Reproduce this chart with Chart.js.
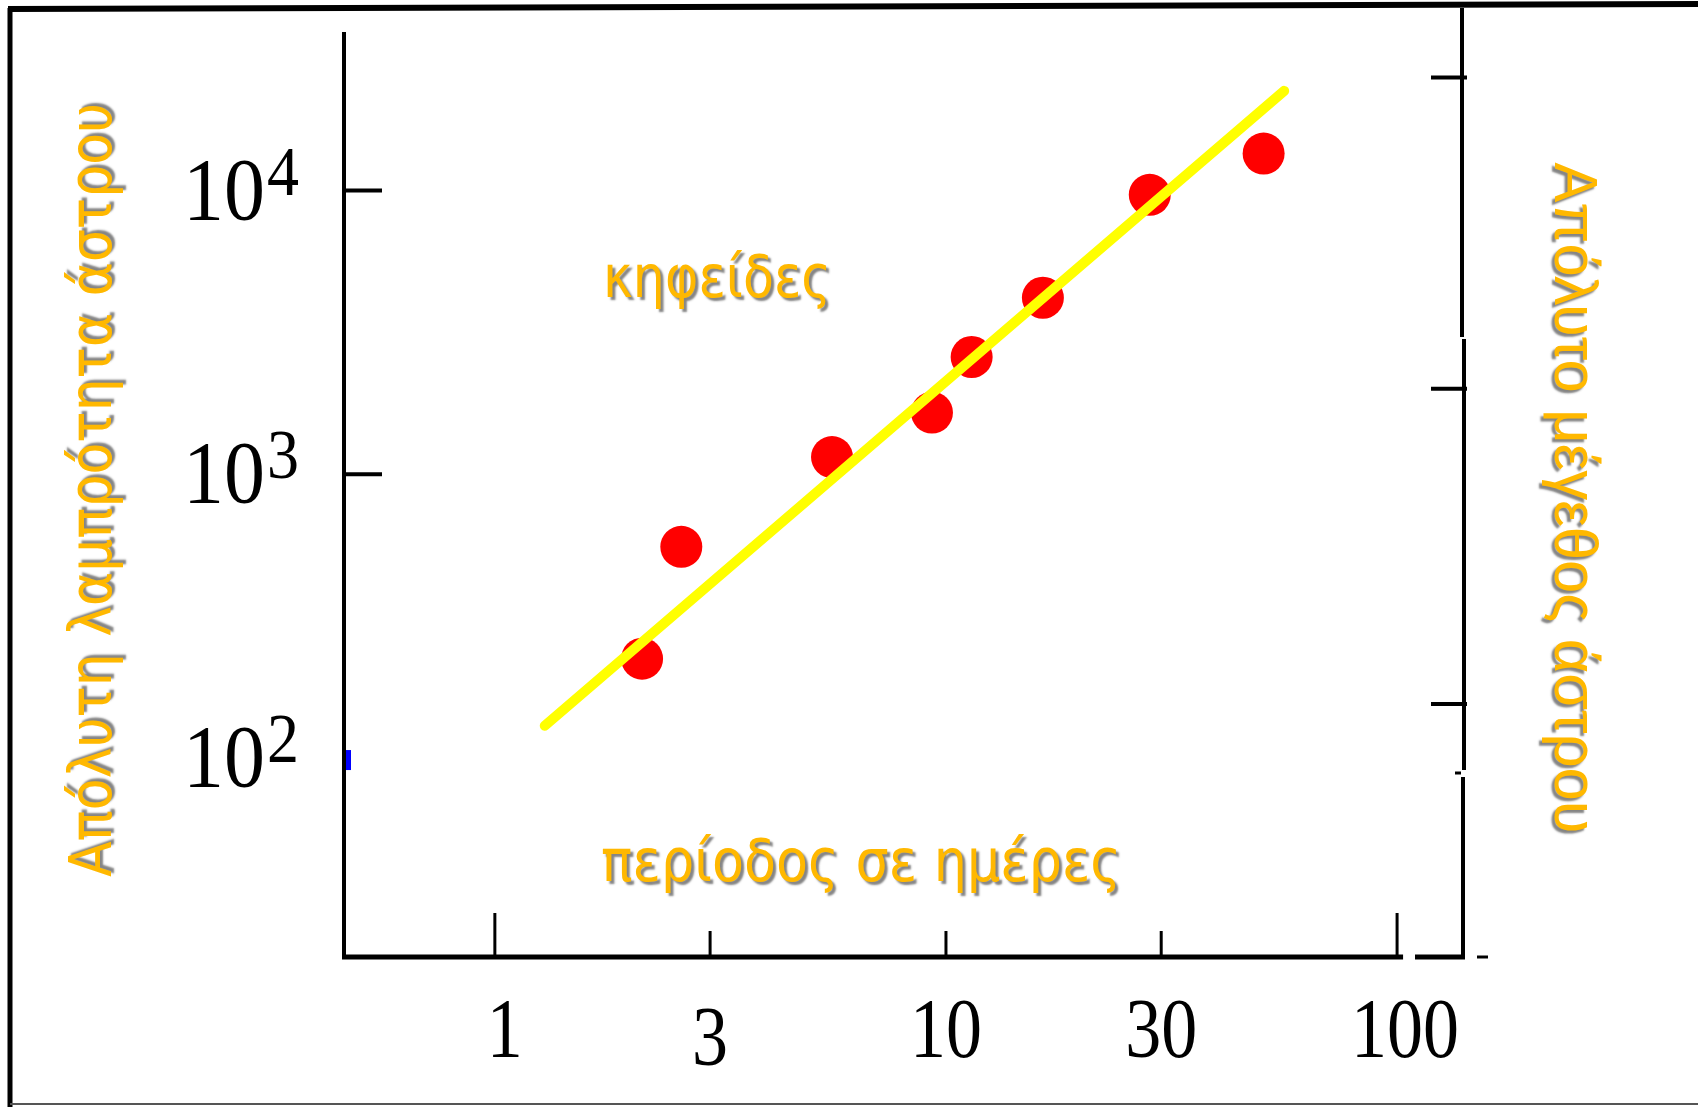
<!DOCTYPE html>
<html><head><meta charset="utf-8">
<script src="https://cdn.jsdelivr.net/npm/chart.js@4"></script>
<style>html,body{margin:0;padding:0;background:#fff;overflow:hidden}#wrap{width:1698px;height:1107px}</style>
</head><body><div id="wrap"><canvas id="c" width="1698" height="1107"></canvas></div>
<script>
// ---- data ----
const periodDays = [2.12, 2.59, 5.59, 9.31, 11.4, 16.4, 28.3, 50.6];
const luminosity = [224, 555, 1150, 1650, 2590, 4190, 9660, 13500];
const fitPeriod = [1.29, 56.2];
const fitLuminosity = [130, 22450];
const xTickValues = [1, 3, 10, 30, 100];
const xTickLabels = ['1', '3', '10', '30', '100'];
const yTickExponents = [4, 3, 2];
const rightTickValues = [25000, 2000, 155];
const xRange = [0.463, 140];
const yRange = [19.9, 36200];
const labelStar = 'κηφείδες';
const labelX = 'περίοδος σε ημέρες';
const labelYLeft = 'Απόλυτη λαμπρότητα άστρου';
const labelYRight = 'Απόλυτο μέγεθος άστρου';

const ORANGE = '#FFB800';

function fittedText(ctx, text, cx, cy, angle, font, targetW, shOff) {
  ctx.save();
  ctx.translate(cx, cy);
  ctx.rotate(angle);
  ctx.font = font;
  const w = ctx.measureText(text).width;
  const sx = targetW / w;
  ctx.scale(sx, 1);
  ctx.textAlign = 'center';
  ctx.textBaseline = 'middle';
  ctx.shadowColor = 'rgba(110,110,110,0.85)';
  ctx.shadowBlur = 2;
  ctx.shadowOffsetX = shOff[0];
  ctx.shadowOffsetY = shOff[1];
  ctx.fillStyle = ORANGE;
  ctx.fillText(text, 0, 0);
  ctx.restore();
}

function tallText(ctx, text, x, y, align, font, sy) {
  ctx.save();
  ctx.translate(x, y);
  ctx.scale(1, sy);
  ctx.font = font;
  ctx.textAlign = align;
  ctx.textBaseline = 'alphabetic';
  ctx.fillText(text, 0, 0);
  ctx.restore();
}

const decor = {
  id: 'decor',
  beforeDraw(chart) {
    const ctx = chart.ctx;
    ctx.save();
    ctx.fillStyle = '#fff';
    ctx.fillRect(0, 0, chart.width, chart.height);
    ctx.restore();
  },
  afterDraw(chart) {
    const ctx = chart.ctx;
    const xs = chart.scales.x, ys = chart.scales.y;
    const {left: L, right: R, top: T, bottom: B} = chart.chartArea;
    ctx.save();
    ctx.strokeStyle = '#000';
    ctx.lineCap = 'butt';
    // frame
    ctx.lineWidth = 5;
    ctx.beginPath(); ctx.moveTo(10, 1107); ctx.lineTo(10, 8); ctx.stroke();
    ctx.lineWidth = 6;
    ctx.beginPath(); ctx.moveTo(8, 9); ctx.lineTo(1698, 4); ctx.stroke();
    ctx.strokeStyle = '#555';
    ctx.lineWidth = 2;
    ctx.beginPath(); ctx.moveTo(10, 1104); ctx.lineTo(1698, 1104); ctx.stroke();
    ctx.strokeStyle = '#000';
    // axes
    ctx.lineWidth = 4;
    ctx.beginPath(); ctx.moveTo(L, T); ctx.lineTo(L, B + 2); ctx.stroke();
    const x100 = xs.getPixelForValue(100);
    ctx.lineWidth = 5;
    ctx.beginPath(); ctx.moveTo(L - 2, B); ctx.lineTo(x100 + 6, B); ctx.stroke();
    ctx.beginPath(); ctx.moveTo(R - 48, B); ctx.lineTo(R + 2, B); ctx.stroke();
    ctx.lineWidth = 3;
    ctx.beginPath(); ctx.moveTo(R + 14, B); ctx.lineTo(R + 25, B); ctx.stroke();
    ctx.lineWidth = 4;
    ctx.beginPath(); ctx.moveTo(R - 1, 8); ctx.lineTo(R - 1, 337); ctx.stroke();
    ctx.beginPath(); ctx.moveTo(R + 1, 339); ctx.lineTo(R + 1, 770); ctx.stroke();
    ctx.beginPath(); ctx.moveTo(R, 777); ctx.lineTo(R, B + 2); ctx.stroke();
    ctx.lineWidth = 3;
    ctx.beginPath(); ctx.moveTo(R - 8, 773); ctx.lineTo(R - 2, 773); ctx.stroke();
    // left ticks
    ctx.lineWidth = 4;
    yTickExponents.forEach(e => {
      if (e === 2) return;
      const py = ys.getPixelForValue(Math.pow(10, e));
      ctx.beginPath(); ctx.moveTo(L, py); ctx.lineTo(L + 38, py); ctx.stroke();
    });
    // blue mark at 10^2
    const p2 = ys.getPixelForValue(100);
    ctx.fillStyle = '#0000FF';
    ctx.fillRect(L + 2, p2 - 8, 5, 20);
    // bottom ticks
    ctx.lineWidth = 3;
    xTickValues.forEach(v => {
      const px = xs.getPixelForValue(v);
      const len = (v === 1 || v === 100) ? 44 : 26;
      ctx.beginPath(); ctx.moveTo(px, B); ctx.lineTo(px, B - len); ctx.stroke();
    });
    // right ticks
    ctx.lineWidth = 4;
    rightTickValues.forEach(v => {
      const py = ys.getPixelForValue(v);
      ctx.beginPath(); ctx.moveTo(R - 32, py); ctx.lineTo(R + 4, py); ctx.stroke();
    });
    // x tick labels
    ctx.fillStyle = '#000';
    xTickValues.forEach((v, i) => {
      const px = xs.getPixelForValue(v);
      tallText(ctx, xTickLabels[i], px + (v === 1 ? 10 : (v === 100 ? 8 : 0)),
               B + 100 + (v === 3 ? 8 : 0), 'center', '72px "Liberation Serif", serif', 1.18);
    });
    // y tick labels 10^n
    yTickExponents.forEach(e => {
      const py = ys.getPixelForValue(Math.pow(10, e));
      tallText(ctx, '10', 265, py + 28, 'right', '82px "Liberation Serif", serif', 1.08);
      tallText(ctx, String(e), 267, py + 4, 'left', '64px "Liberation Serif", serif', 1.1);
    });
    ctx.restore();
    // orange labels
    fittedText(ctx, labelStar, 717, 282, 0, '58px "DejaVu Sans", sans-serif', 228, [3, 3]);
    fittedText(ctx, labelX, 861, 866, 0, '58px "DejaVu Sans", sans-serif', 520, [3, 3]);
    fittedText(ctx, labelYLeft, 96, 490, -Math.PI / 2, '58px "DejaVu Sans", sans-serif', 774, [3, -3]);
    fittedText(ctx, labelYRight, 1572, 498, Math.PI / 2, '62px "Liberation Sans", sans-serif', 671, [-3, 3]);
  }
};

const chart = new Chart(document.getElementById('c'), {
  type: 'scatter',
  data: {
    datasets: [
      {
        type: 'line',
        data: fitPeriod.map((x, i) => ({x, y: fitLuminosity[i]})),
        borderColor: '#FFFF00',
        borderWidth: 10,
        borderCapStyle: 'round',
        pointRadius: 0,
        fill: false,
        tension: 0
      },
      {
        data: periodDays.map((x, i) => ({x, y: luminosity[i]})),
        backgroundColor: '#FF0000',
        borderWidth: 0,
        pointRadius: 21,
        pointHoverRadius: 21
      }
    ]
  },
  options: {
    responsive: false,
    animation: false,
    devicePixelRatio: 1,
    layout: {padding: {left: 344, right: 235, top: 32, bottom: 150}},
    plugins: {legend: {display: false}, tooltip: {enabled: false}},
    events: [],
    scales: {
      x: {type: 'logarithmic', min: xRange[0], max: xRange[1], display: false},
      y: {type: 'logarithmic', min: yRange[0], max: yRange[1], display: false}
    }
  },
  plugins: [decor]
});
</script>
</body></html>
